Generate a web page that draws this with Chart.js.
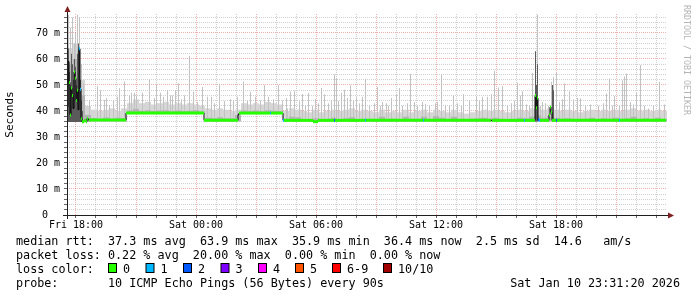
<!DOCTYPE html>
<html><head><meta charset="utf-8">
<script src="https://cdn.jsdelivr.net/npm/chart.js@4/dist/chart.umd.min.js"></script>
<style>html,body{margin:0;padding:0;background:#fff;}#wrap{position:relative;width:697px;height:297px;}</style>
</head><body><div id="wrap"><canvas id="c" width="697" height="297"></canvas></div>
<script>
// ---- time window (hours since Fri 00:00) ----
const START_H = 17.55, END_H = 47.55, END_DATA = 47.50;
const BIN_H = 0.3;      // smoke bins: 18 minutes
const STEP_H = 0.05;    // consolidation step: 3 minutes
const tickLabels = {18:'Fri 18:00', 24:'Sat 00:00', 30:'Sat 06:00', 36:'Sat 12:00', 42:'Sat 18:00'};

// ---- median rtt (ms): change points ----
const medTimes  = [17.55,17.60,17.65,17.70,17.75,17.80,17.85,17.90,17.95,18.00,18.05,18.10,18.15,18.20,18.25,18.30,18.40,18.50,18.55,18.60,18.65,20.50,24.40,26.10,26.15,27.70,27.75,28.35,28.40,29.85,30.10,30.90,30.95,32.45,32.50,35.35,35.40,38.75,38.80,40.40,40.45,40.95,41.00,41.05,41.10,41.15,41.20,41.65,41.70,41.75,41.80,42.00,42.05,45.15,45.20];
const medValues = [41.6,59.0,51.0,38.5,48.8,46.0,41.0,55.0,52.6,44.0,48.0,40.5,63.9,48.4,37.0,35.9,36.2,35.9,37.2,36.6,36.5,39.2,36.4,38.6,39.2,39.2,39.2,36.4,36.4,35.9,36.4,36.4,36.4,36.4,36.4,36.4,36.4,36.4,36.4,36.4,36.4,46.0,41.2,45.0,36.6,36.4,36.4,38.5,41.5,39.5,36.4,36.4,36.4,36.4,36.4];
const medLoss   = [0,0,0,0,0,0,0,0,0,0,0,0,1,1,0,0,0,0,0,0,0,0,0,2,0,1,0,1,0,0,0,2,0,1,0,1,0,2,0,1,0,0,0,0,2,1,0,0,0,0,0,2,0,1,0];

// ---- smoke bands per 18-minute bin (ms), 100 bins ----
const smokeLo  = [
 35.8,35.8,35.8,35.8,36.0,36.0,36.0,36.0,36.0,36.0,
 38.9,38.9,38.9,38.9,38.9,38.9,38.9,38.9,38.9,38.9,
 38.9,38.9,38.9,36.0,36.0,36.0,36.0,36.0,36.0,38.9,
 38.9,38.9,38.9,38.9,38.9,38.9,36.0,36.0,36.0,36.0,
 36.0,36.0,36.0,36.0,36.0,36.0,36.0,36.0,36.0,36.0,
 36.0,36.0,36.0,36.0,36.0,36.0,36.0,36.0,36.0,36.0,
 36.0,36.0,36.0,36.0,36.0,36.0,36.0,36.0,36.0,36.0,
 36.0,36.0,36.0,36.0,36.0,36.0,36.0,36.0,36.0,36.0,
 36.0,36.0,36.0,36.0,36.0,36.0,36.0,36.0,36.0,36.0,
 36.0,36.0,36.0,36.0,36.0,36.0,36.0,36.0,36.0,36.0];
const smokeMid = [
 58.0,60.0,46.0,38.5,37.3,37.0,37.5,37.0,37.4,37.3,
 40.2,40.8,40.1,40.3,40.0,40.2,40.3,40.0,40.2,40.0,
 40.1,40.3,39.8,37.4,37.2,37.6,37.2,37.2,38.4,40.2,
 40.0,40.2,40.0,40.3,40.1,40.0,37.0,37.8,37.6,36.9,
 36.9,37.2,36.9,37.0,37.4,36.9,37.2,37.6,36.9,37.0,
 36.9,36.9,37.8,36.9,37.0,36.9,37.8,36.9,37.0,37.8,
 36.9,38.0,37.4,36.9,37.8,36.9,36.9,37.0,37.2,37.4,
 37.0,37.4,37.0,36.9,37.0,37.4,37.2,37.8,38.3,37.4,
 38.0,37.4,37.0,37.2,36.9,36.9,37.0,37.4,36.9,37.2,
 37.0,37.4,37.0,37.2,37.8,37.0,37.2,36.9,37.4,36.9];
const smokeHi  = [
 64.0,66.0,52.0,42.0,40.5,40.0,40.5,41.0,40.0,41.0,
 43.0,44.5,43.0,43.5,42.5,43.0,43.5,42.5,43.0,42.5,
 43.0,42.5,42.0,41.0,40.5,41.0,40.5,40.0,40.5,43.0,
 42.5,43.0,42.5,43.5,43.0,42.5,40.0,41.0,40.5,40.0,
 39.5,40.5,39.5,40.0,40.5,40.0,40.5,41.0,40.0,40.5,
 40.0,39.5,40.5,39.5,40.0,39.5,40.5,39.5,40.0,40.5,
 39.5,40.5,40.0,39.5,40.5,39.5,39.0,39.5,40.0,40.5,
 40.0,40.5,40.0,39.5,40.0,40.5,40.0,41.0,41.5,40.5,
 41.0,40.5,40.0,40.5,40.0,39.5,40.0,40.5,40.0,40.5,
 40.0,40.5,40.0,40.5,41.0,40.0,40.5,40.0,40.5,40.0];

// ---- individual smoke spikes: time (h) and top (ms) ----
const spikeTimes = [17.60,17.70,17.80,17.90,17.95,18.05,18.15,18.25,18.35,18.65,19.05,19.20,19.40,19.50,19.65,19.85,20.05,20.15,20.40,20.65,20.75,20.90,21.00,21.30,21.65,21.90,22.00,22.20,22.35,22.55,22.70,22.80,22.95,23.10,23.25,23.40,23.65,23.85,24.05,24.30,24.55,24.75,24.90,25.15,25.40,25.70,25.85,26.05,26.35,26.55,26.70,26.95,27.20,27.40,27.60,27.85,28.10,28.30,28.50,28.55,28.70,28.90,29.15,29.30,29.45,29.60,29.80,29.95,30.10,30.25,30.40,30.60,30.75,30.90,31.00,31.10,31.25,31.40,31.55,31.70,31.85,32.00,32.15,32.30,32.45,32.65,32.90,33.05,33.20,33.30,33.50,33.60,33.75,34.00,34.15,34.30,34.55,34.70,34.90,35.05,35.30,35.45,35.65,35.95,36.05,36.25,36.45,36.65,36.85,37.05,37.25,37.35,37.65,38.00,38.15,38.30,38.55,38.75,38.90,39.10,39.30,39.55,39.75,39.90,40.05,40.20,40.30,40.50,40.65,40.80,40.95,41.05,41.20,41.30,41.45,41.60,41.75,41.85,42.00,42.15,42.30,42.40,42.65,42.85,43.05,43.20,43.45,43.70,44.10,44.35,44.50,44.65,44.80,44.90,45.15,45.30,45.40,45.50,45.70,45.85,46.00,46.20,46.40,46.60,46.85,47.15,47.40];
const spikeTops  = [77,72,76,66,70,77,76,58,50.7,44,49.5,48,44.2,45,42.3,43.8,45.5,48.7,51.3,46,47,47,46,47,52,45,50,47,45.5,48,46,46,48,50.7,44.5,46,61.2,47.4,43.5,49.2,45.5,45.5,43,50.5,43.8,44.5,44,45.5,51.3,44,47.4,45.5,44,50,45.5,44.5,50,44,45,41,47.5,47.8,43.7,46.5,42,46.9,42,44.5,43,48.8,46.3,43,44,54,52.7,43.8,47,48.2,45,49.9,43.8,45.3,43,45.5,52.4,42,43,49.2,42,43.5,43,42,45,46.5,48.8,42,43,54.2,43.5,42,43.5,42.8,42,43,43.5,54,42,42,46,43,42,46.5,44,45.6,44,45.5,45.5,46.5,55.5,49,49.5,42,43,44,51,46,47.6,42.5,42,54.6,55,77,42,43.5,43,42,51.2,53,54.6,43.5,44.5,50.6,47.5,44.5,45,44.8,42,42.5,42,43,46.7,52.5,42,45.8,42,51.8,53.3,54.4,43.5,42.5,47,57.7,42,41,42,51.2,42.5];
const darkTimes = [17.55,17.60,17.65,17.70,17.75,17.80,17.85,17.90,17.95,18.00,18.05,18.10,18.15,18.20,18.25,18.30,40.95,41.00,41.05,41.80,41.85];
const darkTops  = [60,64,55,50,62,58,52,60,57,50,62,66,64,52,44,40,63,50,58,50,48];

// ---- legend / statistics text ----
const lossColors = ['#26ff00','#00b8ff','#0059ff','#7e00ff','#ff00ff','#ff5500','#ff0000','#a00000'];
const lossLabels = ['0','1','2','3','4','5','6-9','10/10'];
const statLines = [
  'median rtt:  37.3 ms avg  63.9 ms max  35.9 ms min  36.4 ms now  2.5 ms sd  14.6   am/s',
  'packet loss: 0.22 % avg  20.00 % max  0.00 % min  0.00 % now',
  'loss color:',
  'probe:       10 ICMP Echo Pings (56 Bytes) every 90s'
];
const stampText = 'Sat Jan 10 23:31:20 2026';
const creditText = 'RRDTOOL / TOBI OETIKER';
const xTickHours = [18,19,20,21,22,23,24,25,26,27,28,29,30,31,32,33,34,35,36,37,38,39,40,41,42,43,44,45,46,47];
const yTickValues = [0,2,4,6,8,10,12,14,16,18,20,22,24,26,28,30,32,34,36,38,40,42,44,46,48,50,52,54,56,58,60,62,64,66,68,70,72,74,76];

// ---- build tables ----
const MONO = 'DejaVu Sans Mono';
const GRID_MINOR = 'rgba(143,143,143,0.42)';
const GRID_MAJOR = 'rgba(222,79,79,0.45)';
const binAt = t => Math.min(smokeLo.length - 1, Math.max(0, Math.floor((t - START_H) / BIN_H + 1e-6)));
const bandData = tops => tops.map((v, k) => ({x: START_H + BIN_H * (k + 0.5), y: [smokeLo[k], v]}));
const spikeData = (times, tops) => times.map((t, i) => ({x: t + STEP_H / 2, y: [smokeLo[binAt(t)], tops[i]]}));
const blackLine = medTimes.map((t, i) => ({x: t, y: medValues[i]})).concat([{x: END_DATA, y: medValues[medValues.length - 1]}]);
const greenSegs = [];
medTimes.forEach((t, i) => {
  const t1 = i + 1 < medTimes.length ? medTimes[i + 1] : END_DATA;
  greenSegs.push({x: t, y: medValues[i]}, {x: t1, y: medValues[i]}, {x: t1, y: null});
});

const deco = {
  id: 'deco',
  afterDraw(chart) {
    const ctx = chart.ctx, a = chart.chartArea;
    ctx.save();
    ctx.strokeStyle = '#1f1f1f'; ctx.lineWidth = 1;
    ctx.beginPath();
    ctx.moveTo(a.left + 0.5, a.bottom + 4); ctx.lineTo(a.left + 0.5, a.top - 4);
    ctx.moveTo(a.left - 4, a.bottom + 0.5); ctx.lineTo(a.right + 2, a.bottom + 0.5);
    ctx.stroke();
    ctx.fillStyle = '#801f1f';
    ctx.beginPath();
    ctx.moveTo(a.left + 0.5, a.top - 8); ctx.lineTo(a.left - 2.5, a.top - 2); ctx.lineTo(a.left + 3.5, a.top - 2); ctx.closePath(); ctx.fill();
    ctx.beginPath();
    ctx.moveTo(a.right + 7, a.bottom + 0.5); ctx.lineTo(a.right + 1, a.bottom - 2.5); ctx.lineTo(a.right + 1, a.bottom + 3.5); ctx.closePath(); ctx.fill();
    ctx.fillStyle = '#000';
    ctx.font = '11.75px "' + MONO + '"';
    ctx.textBaseline = 'alphabetic';
    ctx.textAlign = 'left';
    const base = [245, 259, 273, 287];
    statLines.forEach((s, i) => ctx.fillText(s, 16, base[i]));
    ctx.textAlign = 'right';
    ctx.fillText(stampText, 680, base[3]);
    ctx.textAlign = 'left';
    const sx = [108, 145.5, 183, 220.5, 258, 295, 332, 383];
    lossColors.forEach((c, i) => {
      ctx.fillStyle = c;
      ctx.fillRect(sx[i] + 0.5, base[2] - 9.5, 8, 9);
      ctx.strokeStyle = '#000';
      ctx.strokeRect(sx[i] + 0.5, base[2] - 9.5, 8, 9);
      ctx.fillStyle = '#000';
      ctx.fillText(lossLabels[i], sx[i] + 15, base[2]);
    });
    ctx.translate(686, 5);
    ctx.rotate(Math.PI / 2);
    ctx.font = '8.3px "' + MONO + '"';
    ctx.fillStyle = '#b4b4b4';
    ctx.textBaseline = 'middle';
    ctx.fillText(creditText, 0, 0);
    ctx.restore();
  }
};

new Chart(document.getElementById('c'), {
  type: 'bar',
  data: {
    datasets: [
      {type: 'line', data: greenSegs, borderWidth: 3, borderCapStyle: 'butt', pointRadius: 0, spanGaps: false, order: 1,
       borderColor: lossColors[0], segment: {borderColor: c => lossColors[medLoss[Math.floor(c.p0DataIndex / 3)]]}},
      {type: 'line', data: blackLine, stepped: 'before', borderColor: '#000', borderWidth: 1, pointRadius: 0, order: 2},
      {data: spikeData(darkTimes, darkTops), backgroundColor: '#5a5a5a', barThickness: 1, grouped: false, inflateAmount: 0, order: 7},
      {data: bandData(smokeMid), backgroundColor: '#b4b4b4', barThickness: 6, grouped: false, inflateAmount: 0, order: 8},
      {data: spikeData(spikeTimes, spikeTops), backgroundColor: '#c2c2c2', barThickness: 1, grouped: false, inflateAmount: 0, order: 9},
      {data: bandData(smokeHi), backgroundColor: '#d6d6d6', barThickness: 6, grouped: false, inflateAmount: 0, order: 10}
    ]
  },
  options: {
    responsive: false, animation: false, devicePixelRatio: 1,
    layout: {padding: {left: 0, right: 30, top: 14, bottom: 62}},
    plugins: {legend: {display: false}, tooltip: {enabled: false}},
    scales: {
      x: {
        type: 'linear', min: START_H, max: END_H, offset: false,
        afterFit: s => { s.height = 20; },
        afterBuildTicks: s => { s.ticks = xTickHours.map(v => ({value: v})); },
        ticks: {autoSkip: false, maxRotation: 0, padding: 1,
                font: {family: MONO, size: 10}, color: '#000',
                callback: v => tickLabels[v] || ''},
        grid: {offset: false, drawTicks: true, tickLength: 3, tickBorderDash: [],
               color: c => (c.tick.value % 3 === 0) ? GRID_MAJOR : GRID_MINOR,
               tickColor: '#666'},
        border: {display: false, dash: [1, 1]}
      },
      y: {
        min: 0, max: 77.3,
        afterFit: s => { s.width = 67; },
        afterBuildTicks: s => { s.ticks = yTickValues.map(v => ({value: v})); },
        ticks: {autoSkip: false, padding: 4, font: {family: MONO, size: 10}, color: '#000',
                callback: v => v % 10 === 0 ? (v === 0 ? '0  ' : v + ' m') : ''},
        grid: {drawTicks: true, tickLength: 3, tickBorderDash: [],
               color: c => (c.tick.value % 10 === 0) ? GRID_MAJOR : GRID_MINOR,
               tickColor: '#666'},
        border: {display: false, dash: [1, 1]},
        title: {display: true, text: 'Seconds', font: {family: MONO, size: 11}, color: '#000', padding: {top: 4, bottom: 0}}
      }
    }
  },
  plugins: [deco]
});
</script></body></html>
